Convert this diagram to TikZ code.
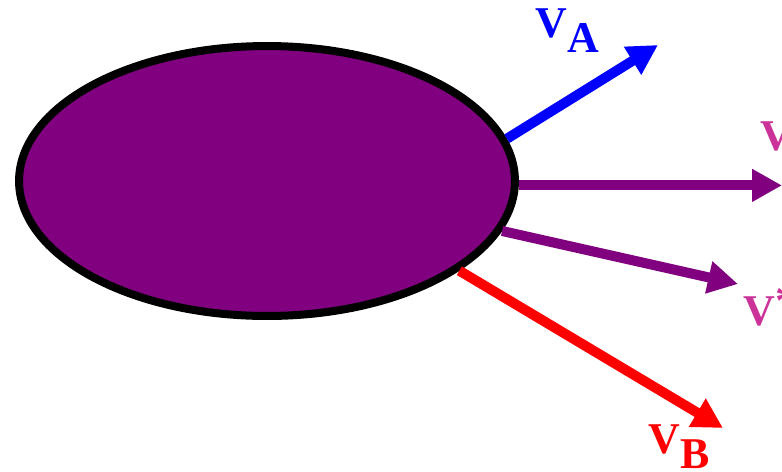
\documentclass[tikz,border=0pt]{standalone}
\usepackage{fontspec}
\setmainfont{Liberation Serif}
\usepackage{tikz}
\usetikzlibrary{arrows.meta,shapes.geometric}
\definecolor{bodypurple}{RGB}{128,0,128}
\definecolor{velpink}{RGB}{204,51,153}
\tikzset{
  velarrow/.style={line width=0.2cm, -{Triangle[length=0.6cm,width=0.62cm]}},
  vellabel/.style={anchor=base west, inner sep=0pt, font=\fontsize{25}{30}\selectfont\bfseries},
}

\begin{document}
\begin{tikzpicture}[x=0.02cm, y=-0.02cm]
        \clip (0,0) rectangle (782,471);
        \coordinate (c) at (267,181);
        \coordinate (tA) at (658,45);
        \coordinate (tH) at (782,188);
        \coordinate (tS) at (738,284);
        \coordinate (tB) at (723,428);

        \node[ellipse, draw=black, line width=0.16cm, fill=bodypurple, minimum width=9.92cm, minimum height=5.4cm, inner sep=0pt] (body) at (c) {};

        \draw[velarrow, blue] (body.10) -- (tA);
        \draw[velarrow, bodypurple] (body.-1.6) -- (body.-1.6 -| tH);
        \draw[velarrow, bodypurple] (body.-12.7) -- (tS);
        \draw[velarrow, red] (body.-25.3) -- (tB);

        \node[vellabel, blue] (labA) at (535,37) {V\raisebox{-0.3cm}{A}};
        \node[vellabel, velpink] (labH) at (760,150) {V};
        \node[vellabel, velpink] (labS) at (743,325) {V\raisebox{0.2cm}{*}};
        \node[vellabel, red] (labB) at (648,453) {V\raisebox{-0.3cm}{B}};
    \end{tikzpicture}
\end{document}
